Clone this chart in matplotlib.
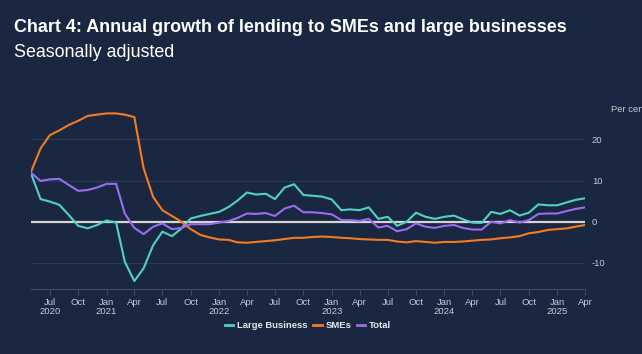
import matplotlib
matplotlib.use("Agg")
import matplotlib.pyplot as plt
import pandas as pd
from matplotlib.lines import Line2D

months = pd.date_range("2020-05-01", periods=60, freq="MS")

large_business = [11.7, 5.5, 4.9, 4.1, 1.6, -1.0, -1.6, -0.8, 0.3, -0.2,
                  -9.7, -14.4, -11.3, -5.7, -2.4, -3.5, -1.6, 0.8, 1.4, 1.9,
                  2.4, 3.6, 5.1, 7.1, 6.6, 6.8, 5.5, 8.3, 9.1, 6.5,
                  6.3, 6.1, 5.4, 2.8, 3.0, 2.8, 3.5, 0.7, 1.2, -1.0,
                  0.0, 2.2, 1.2, 0.7, 1.2, 1.5, 0.6, -0.2, -0.3, 2.4,
                  1.9, 2.8, 1.5, 2.2, 4.2, 4.0, 4.0, 4.7, 5.3, 5.7]
smes = [12.1, 17.8, 21.0, 22.2, 23.5, 24.5, 25.7, 26.0, 26.3, 26.3,
        26.0, 25.4, 13.0, 6.0, 2.8, 1.4, 0.0, -1.8, -3.2, -3.8,
        -4.3, -4.4, -5.0, -5.1, -4.9, -4.7, -4.5, -4.2, -3.9, -3.9,
        -3.7, -3.6, -3.7, -3.9, -4.0, -4.2, -4.3, -4.4, -4.4, -4.8,
        -5.0, -4.7, -4.9, -5.1, -4.9, -4.9, -4.8, -4.6, -4.4, -4.3,
        -4.0, -3.8, -3.5, -2.8, -2.5, -2.0, -1.8, -1.6, -1.2, -0.8]
total = [11.9, 9.9, 10.3, 10.4, 8.9, 7.5, 7.7, 8.3, 9.2, 9.2,
         2.0, -1.5, -3.0, -1.2, -0.4, -1.8, -1.5, -0.6, -0.6, -0.6,
         -0.2, 0.2, 0.9, 2.0, 1.9, 2.1, 1.4, 3.2, 3.9, 2.3,
         2.3, 2.1, 1.8, 0.4, 0.4, 0.2, 0.7, -1.4, -1.0, -2.3,
         -1.8, -0.4, -1.2, -1.5, -1.0, -0.8, -1.5, -1.9, -1.9, 0.0,
         -0.4, 0.4, -0.2, 0.4, 1.9, 2.0, 2.0, 2.6, 3.1, 3.5]

series_names = ["Large Business", "SMEs", "Total"]
series_colors = ["#4fd1c5", "#f47b20", "#9b6cf2"]

tick_dates = pd.date_range("2020-07-01", "2025-04-01", freq="3MS")
tick_labels = [d.strftime("%b") + ("\n" + d.strftime("%Y") if (d.month == 1 or i == 0) else "")
               for i, d in enumerate(tick_dates)]
y_ticks = [-10, 0, 10, 20]

BG = "#192840"
GRID = "#2c3b54"
TXT = "#c5cad3"

W, H = 642, 354
fig = plt.figure(figsize=(W / 100, H / 100), dpi=100, facecolor=BG)
plt.rcParams["font.family"] = ["Liberation Sans", "DejaVu Sans"]

ax_left, ax_right, ax_bottom_px, ax_top_px = 31, 585, 289.3, 106.4
ax = fig.add_axes([ax_left / W, (H - ax_bottom_px) / H, (ax_right - ax_left) / W,
                   (ax_bottom_px - ax_top_px) / H])
ax.set_facecolor(BG)

for vals, name, col in zip([large_business, smes, total], series_names, series_colors):
    ax.plot(months, vals, color=col, lw=1.5, label=name, zorder=3, solid_joinstyle="round")

ax.axhline(0, color="#d4d4d4", lw=1.6, zorder=2)
for yv in y_ticks:
    if yv != 0:
        ax.axhline(yv, color=GRID, lw=0.9, zorder=1)

ax.set_xlim(months[0], months[-1])
ax.set_ylim(-16.4, 28)

ax.set_xticks(tick_dates)
ax.set_xticklabels(tick_labels, color=TXT, fontsize=6.8, linespacing=1.05)
ax.tick_params(axis="x", length=4, color="#3b4a63", width=0.8, pad=2)

ax.yaxis.tick_right()
ax.set_yticks(y_ticks)
ax.set_yticklabels([str(v) for v in y_ticks], color=TXT, fontsize=6.8)
ax.tick_params(axis="y", length=0, pad=5)

for s in ["top", "left", "right"]:
    ax.spines[s].set_visible(False)
ax.spines["bottom"].set_color("#3b4a63")
ax.spines["bottom"].set_linewidth(0.9)

fig.text(611 / W, 1 - 109 / H, "Per cent", color=TXT, fontsize=6.8, va="center", ha="left")

fig.text(14 / W, 1 - 32 / H, "Chart 4: Annual growth of lending to SMEs and large businesses",
         color="white", fontsize=12.9, fontweight="bold", ha="left", va="baseline")
fig.text(14 / W, 1 - 57 / H, "Seasonally adjusted", color="white", fontsize=12.9,
         ha="left", va="baseline")

handles = [Line2D([0], [0], color=c, lw=2) for c in series_colors]
leg = fig.legend(handles, series_names, loc="center", bbox_to_anchor=(308 / W, 1 - 326 / H),
                 ncol=3, frameon=False, handlelength=0.9, handletextpad=0.4, columnspacing=0.6,
                 prop={"size": 6.8, "weight": "bold"})
for t in leg.get_texts():
    t.set_color("#e6e8ec")

fig.savefig("out.png", dpi=100, facecolor=BG)
